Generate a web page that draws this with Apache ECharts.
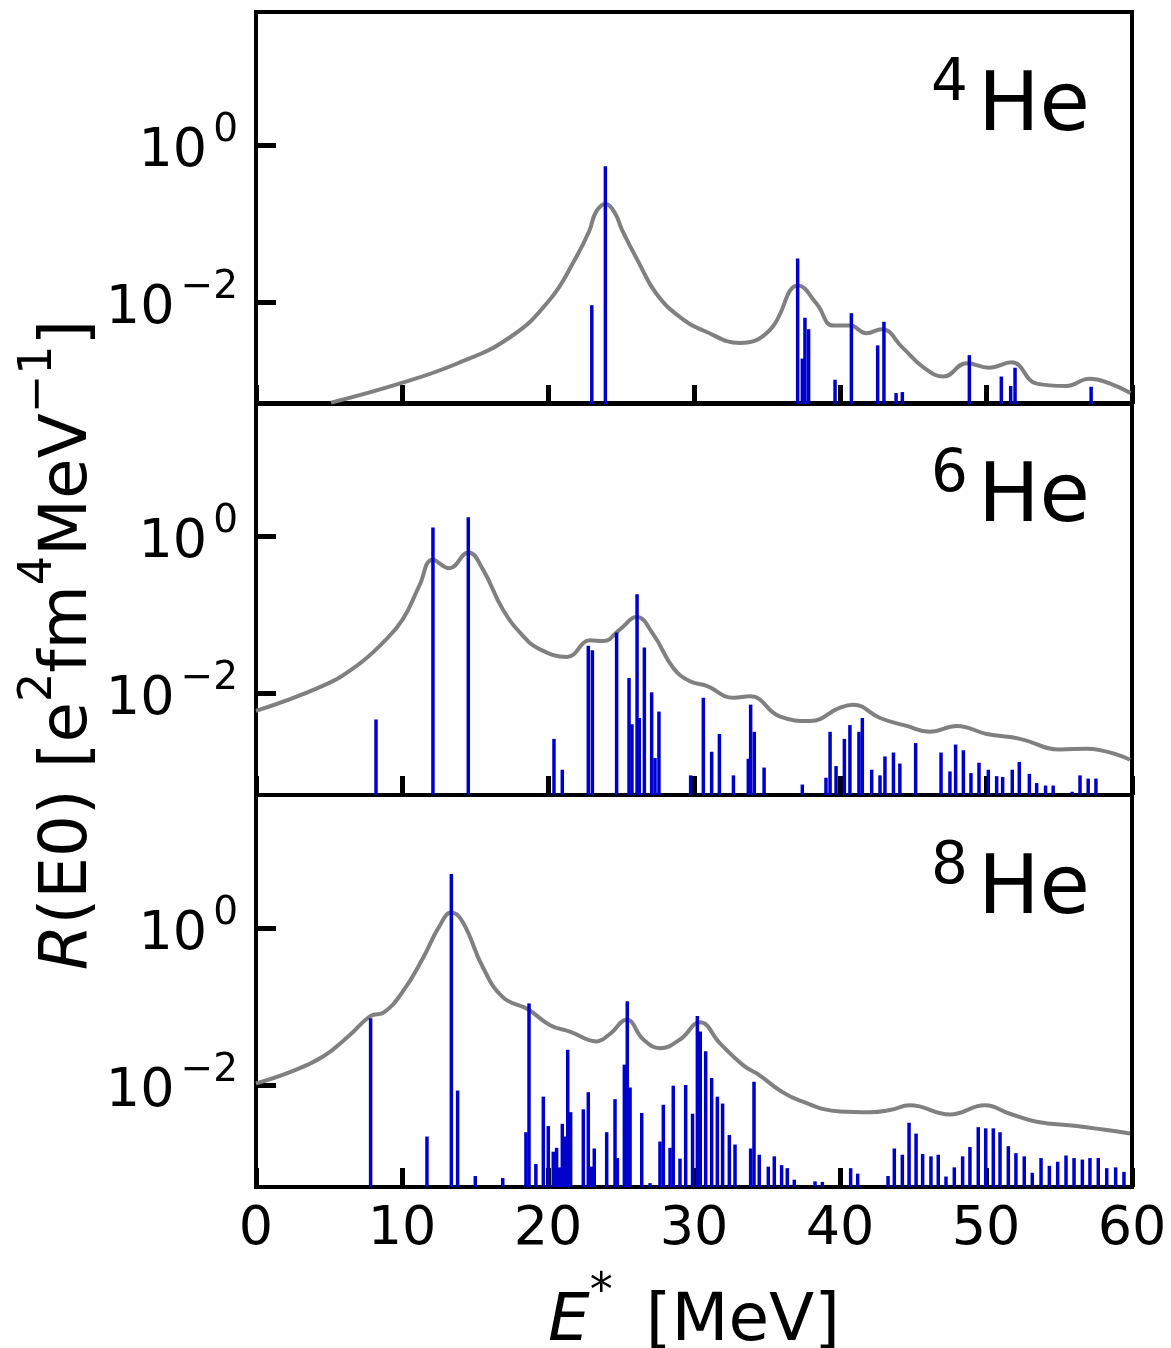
<!DOCTYPE html>
<html>
<head>
<meta charset="utf-8">
<script src="https://cdn.jsdelivr.net/npm/echarts@6/dist/echarts.min.js"></script>
<style>
html,body{margin:0;padding:0;background:#fff;}
#chart{width:1171px;height:1348px;}
</style>
</head>
<body>
<div id="chart"></div>
<script>
// ---------- data ----------
const panelNames = [['4','He'], ['6','He'], ['8','He']];
const xTickValues = [0, 10, 20, 30, 40, 50, 60];
const yTickValues = [0.01, 1];
const yTickLabels = [['10', '\u22122'], ['10', '0']];

// 4He: discrete E0 strengths [E*, R]
const he4Lines = [
  [23.0, 0.0091], [23.93, 0.54], [37.1, 0.036], [37.42, 0.0019], [37.6, 0.0063],
  [37.85, 0.0045], [39.66, 0.00102], [40.78, 0.0072], [42.58, 0.0028], [43.01, 0.0056],
  [43.84, 0.00069], [44.27, 0.00071], [48.86, 0.0021], [51.05, 0.00112], [51.69, 0.00085],
  [51.99, 0.00145], [57.2, 0.00083]
];
// 4He: smeared strength function [E*, R]
const he4Curve = [
  [5.14, 0.00052], [9.82, 0.00091], [13.7, 0.00162], [17.35, 0.0035], [20.09, 0.0105],
  [21.92, 0.037], [22.83, 0.081], [23.29, 0.141], [23.93, 0.178], [24.54, 0.141],
  [25.1, 0.081], [26.25, 0.031], [27.4, 0.0129], [29.0, 0.0065], [30.8, 0.0042],
  [33.15, 0.0030], [35.2, 0.0044], [37.15, 0.0162], [38.4, 0.0095], [39.54, 0.0050],
  [40.7, 0.0050], [41.8, 0.0040], [42.85, 0.0045], [44.3, 0.0026], [45.7, 0.00148],
  [47.1, 0.00112], [48.68, 0.00166], [50.2, 0.00145], [51.76, 0.0017], [53.47, 0.00091],
  [55.5, 0.00085], [57.1, 0.00105], [58.5, 0.00091], [59.9, 0.00069]
];

// 6He
const he6Lines = [
  [8.22, 0.0046], [12.12, 1.29], [14.54, 1.74], [20.41, 0.0026], [20.98, 0.00105],
  [22.76, 0.040], [23.04, 0.035], [24.7, 0.059], [25.55, 0.0155], [25.75, 0.0040],
  [26.1, 0.182], [26.25, 0.0048], [26.6, 0.038], [27.1, 0.0102], [27.33, 0.00148],
  [27.6, 0.0058], [29.77, 0.00089], [30.64, 0.0087], [31.21, 0.00178], [31.74, 0.0030],
  [32.7, 0.00089], [33.72, 0.00145], [33.88, 0.0071], [34.13, 0.0032], [34.8, 0.00112],
  [37.42, 0.00068], [39.04, 0.00083], [39.32, 0.0032], [39.73, 0.00117], [40.3, 0.0026],
  [40.68, 0.0039], [41.3, 0.0032], [41.53, 0.0048], [42.17, 0.00105], [42.74, 0.00089],
  [43.08, 0.00155], [43.66, 0.00174], [44.1, 0.00126], [45.18, 0.0023], [46.92, 0.00174],
  [47.53, 0.0010], [47.92, 0.0022], [48.45, 0.00186], [48.97, 0.00095], [49.52, 0.00129],
  [50.16, 0.00105], [50.73, 0.00087], [51.14, 0.00085], [51.8, 0.00105], [52.28, 0.00132],
  [52.97, 0.00093], [53.47, 0.00071], [54.08, 0.00066], [54.6, 0.00066], [55.9, 0.00055],
  [56.44, 0.00089], [57.0, 0.00081], [57.53, 0.00081]
];
const he6Curve = [
  [0, 0.0059], [4.57, 0.0123], [6.85, 0.0219], [8.68, 0.0437], [10.05, 0.087],
  [11.19, 0.234], [12.1, 0.50], [13.24, 0.39], [14.54, 0.62], [15.53, 0.38],
  [16.9, 0.117], [18.27, 0.054], [19.45, 0.036], [21.3, 0.0288], [22.88, 0.047],
  [23.79, 0.046], [24.93, 0.065], [26.07, 0.093], [27.21, 0.056], [28.58, 0.0209],
  [29.73, 0.0141], [30.87, 0.0123], [32.7, 0.0087], [33.84, 0.0091], [35.9, 0.0050],
  [37.95, 0.0044], [40.0, 0.0065], [40.9, 0.0071], [42.74, 0.0048], [44.57, 0.0038],
  [46.16, 0.0032], [47.99, 0.0038], [50.05, 0.0030], [52.33, 0.0026], [55.07, 0.0019],
  [56.9, 0.00195], [59.86, 0.00141]
];

// 8He
const he8Lines = [
  [7.85, 0.071], [11.71, 0.0022], [13.38, 4.9], [13.81, 0.0085], [15.02, 0.00069],
  [16.9, 0.00065], [18.49, 0.0025], [18.7, 0.110], [19.17, 0.00098], [19.68, 0.0071],
  [20.02, 0.0030], [20.36, 0.00141], [20.59, 0.00158], [20.77, 0.00089], [20.98, 0.0032],
  [21.16, 0.0022], [21.35, 0.0282], [21.55, 0.0045], [22.42, 0.0049], [22.76, 0.0081],
  [22.99, 0.00091], [23.17, 0.00155], [24.02, 0.0025], [24.59, 0.0066], [24.75, 0.00117],
  [25.23, 0.0182], [25.43, 0.117], [25.62, 0.0093], [26.42, 0.0044], [26.99, 0.00056],
  [27.67, 0.0019], [27.9, 0.0056], [28.36, 0.00158], [28.58, 0.0098], [29.04, 0.00115],
  [29.43, 0.0100], [29.9, 0.0043], [30.23, 0.076], [30.43, 0.048], [30.8, 0.0269],
  [31.21, 0.0123], [31.6, 0.0071], [31.96, 0.0058], [32.42, 0.0023], [32.81, 0.00174],
  [33.88, 0.00155], [34.11, 0.0110], [34.47, 0.00129], [35.09, 0.00091], [35.5, 0.00123],
  [36.0, 0.00095], [36.39, 0.00087], [36.87, 0.00062], [38.29, 0.00059], [38.79, 0.00058],
  [40.73, 0.00087], [41.21, 0.00074], [43.29, 0.00069], [43.72, 0.00155], [44.27, 0.00129],
  [44.73, 0.0033], [45.21, 0.0024], [45.66, 0.00132], [46.23, 0.00123], [46.73, 0.00129],
  [47.26, 0.00068], [47.83, 0.00089], [48.4, 0.00123], [48.9, 0.00162], [49.47, 0.0029],
  [49.98, 0.0028], [50.5, 0.0028], [50.96, 0.0025], [51.53, 0.00166], [52.05, 0.00135],
  [52.62, 0.00123], [53.17, 0.00076], [53.77, 0.00117], [54.34, 0.00093], [54.91, 0.00105],
  [55.48, 0.00126], [56.03, 0.00117], [56.6, 0.00112], [57.12, 0.00117], [57.69, 0.00117],
  [58.27, 0.00087], [58.88, 0.00089], [59.45, 0.00078]
];
const he8Curve = [
  [0, 0.0105], [2.28, 0.0145], [4.57, 0.0229], [6.39, 0.0427], [7.85, 0.076],
  [8.79, 0.085], [10.05, 0.155], [11.42, 0.41], [12.55, 1.05], [13.38, 1.58],
  [14.16, 1.20], [15.53, 0.32], [16.9, 0.132], [18.6, 0.093], [20.14, 0.058],
  [21.5, 0.048], [23.33, 0.036], [24.25, 0.045], [25.39, 0.068], [26.53, 0.038],
  [27.67, 0.0295], [29.04, 0.038], [30.41, 0.063], [31.78, 0.034], [33.38, 0.0178],
  [34.52, 0.0132], [35.89, 0.0085], [37.26, 0.0063], [40.0, 0.0046],
  [42.05, 0.0045], [43.42, 0.0048], [44.79, 0.0055], [47.53, 0.0042], [49.93, 0.0055],
  [51.64, 0.0043], [53.47, 0.0034], [56.21, 0.0030], [58.03, 0.0027], [59.86, 0.0024]
];

const lineSets = [he4Lines, he6Lines, he8Lines];
const curveSets = [he4Curve, he6Curve, he8Curve];

// ---------- layout / style ----------
const X_MIN = 0, X_MAX = 60, X_INT = 10;
const Y_MIN = 5e-4, Y_MAX = 50;
const LEFT = 256, RIGHT = 39;
const panelTops = [12, 403, 795];
const panelH = 392;
const FONT = 'DejaVu Sans';
const BAR_COLOR = '#0000cd';
const CURVE_COLOR = '#808080';

const chart = echarts.init(document.getElementById('chart'), null, {renderer: 'canvas', devicePixelRatio: 1});

const grids = [], xAxes = [], yAxes = [], series = [];
for (let i = 0; i < 3; i++) {
  grids.push({left: LEFT, right: RIGHT, top: panelTops[i], height: panelH,
    show: true, borderColor: '#000', borderWidth: 4, backgroundColor: 'transparent'});
  xAxes.push({
    type: 'value', gridIndex: i, min: X_MIN, max: X_MAX, interval: X_INT,
    axisLine: {show: true, lineStyle: {color: '#000', width: 4}},
    axisTick: {show: true, inside: true, length: 19, lineStyle: {color: '#000', width: 5}},
    splitLine: {show: false},
    axisLabel: {show: i === 2, fontSize: 54, fontFamily: FONT, color: '#000', margin: 16,
      customValues: xTickValues}
  });
  yAxes.push({
    type: 'log', logBase: 10, gridIndex: i, min: Y_MIN, max: Y_MAX,
    axisLine: {show: true, lineStyle: {color: '#000', width: 4}},
    axisTick: {show: true, inside: true, length: 20, lineStyle: {color: '#000', width: 5},
      customValues: yTickValues},
    splitLine: {show: false},
    minorTick: {show: false},
    axisLabel: {
      show: true, margin: 18, customValues: yTickValues,
      formatter: function (v) {
        const e = Math.round(Math.log10(v));
        const idx = yTickValues.findIndex(t => Math.round(Math.log10(t)) === e);
        const lab = yTickLabels[idx];
        return '{b|' + lab[0] + '}{s|' + lab[1] + '}';
      },
      rich: {
        b: {fontSize: 54, fontFamily: FONT, color: '#000', lineHeight: 68, verticalAlign: 'bottom'},
        s: {fontSize: 39, fontFamily: FONT, color: '#000', lineHeight: 39, verticalAlign: 'top', padding: [0, 0, 0, 6]}
      }
    }
  });
  series.push({
    type: 'line', xAxisIndex: i, yAxisIndex: i, data: curveSets[i],
    showSymbol: false, symbol: 'none', smooth: 0.45, clip: true,
    lineStyle: {color: CURVE_COLOR, width: 4}, z: 2, silent: true
  });
  series.push({
    type: 'custom', xAxisIndex: i, yAxisIndex: i, data: lineSets[i], clip: true, z: 3,
    encode: {x: 0, y: 1}, silent: true,
    renderItem: function (params, api) {
      const x = api.value(0), v = api.value(1);
      const top = api.coord([x, v]);
      const bot = api.coord([x, Y_MIN]);
      return {type: 'rect', shape: {x: top[0] - 1.75, y: top[1], width: 3.5, height: bot[1] - top[1]},
        style: {fill: BAR_COLOR}};
    }
  });
}

// panel labels
const graphics = [];
for (let i = 0; i < 3; i++) {
  graphics.push({
    type: 'text', right: 1171 - 1090, top: panelTops[i] + 44, z: 10,
    style: {
      text: '{s|' + panelNames[i][0] + '}{b|' + panelNames[i][1] + '}',
      rich: {
        b: {fontSize: 82, fontFamily: FONT, fill: '#000', lineHeight: 94, verticalAlign: 'bottom'},
        s: {fontSize: 58, fontFamily: FONT, fill: '#000', lineHeight: 64, verticalAlign: 'top', padding: [0, 10, 0, 0]}
      }
    }
  });
}
// y axis title
graphics.push({
  type: 'text', x: 59, y: 645, rotation: Math.PI / 2, z: 10,
  style: {
    text: '{i|R}{b|(E0) [e}{s|2}{b|fm}{s|4}{b|MeV}{s|\u22121}{b|]}',
    align: 'center', verticalAlign: 'middle',
    rich: {
      i: {fontSize: 66, fontFamily: FONT, fontStyle: 'italic', fill: '#000', lineHeight: 86, verticalAlign: 'bottom'},
      b: {fontSize: 66, fontFamily: FONT, fill: '#000', lineHeight: 86, verticalAlign: 'bottom'},
      s: {fontSize: 46, fontFamily: FONT, fill: '#000', lineHeight: 46, verticalAlign: 'top'}
    }
  }
});
// x axis title
graphics.push({
  type: 'text', x: 694, y: 1313, z: 10,
  style: {
    text: '{i|E}{s|*}{b|\u2002[MeV]}',
    align: 'center', verticalAlign: 'middle',
    rich: {
      i: {fontSize: 66, fontFamily: FONT, fontStyle: 'italic', fill: '#000', lineHeight: 86, verticalAlign: 'bottom'},
      b: {fontSize: 66, fontFamily: FONT, fill: '#000', lineHeight: 86, verticalAlign: 'bottom'},
      s: {fontSize: 46, fontFamily: FONT, fill: '#000', lineHeight: 46, verticalAlign: 'top'}
    }
  }
});

chart.setOption({
  backgroundColor: '#fff',
  animation: false,
  grid: grids,
  xAxis: xAxes,
  yAxis: yAxes,
  series: series,
  graphic: graphics
});
</script>
</body>
</html>
